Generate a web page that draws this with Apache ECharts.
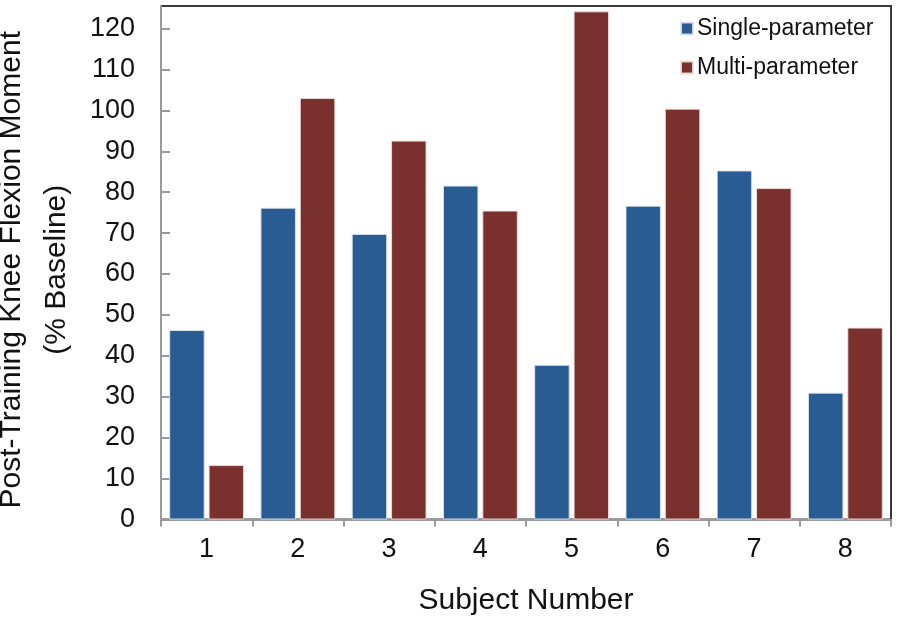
<!DOCTYPE html>
<html>
<head>
<meta charset="utf-8">
<script src="https://cdn.jsdelivr.net/npm/echarts@6/dist/echarts.min.js"></script>
<style>html,body{margin:0;padding:0;background:#fff;}#c{width:898px;height:625px;}</style>
</head>
<body>
<div id="c"></div>
<script>
const categories = ['1', '2', '3', '4', '5', '6', '7', '8'];
const singleParam = [46.3, 76.2, 69.8, 81.6, 37.8, 76.7, 85.3, 31.0];
const multiParam = [13.3, 103.0, 92.6, 75.5, 124.2, 100.4, 81.0, 46.9];
const seriesNames = ['Single-parameter', 'Multi-parameter'];
const xTitle = 'Subject Number';
const yTitle = 'Post-Training Knee Flexion Moment\n(% Baseline)';

const FONT = '"Liberation Sans", Arial, sans-serif';
const chart = echarts.init(document.getElementById('c'), null, {renderer: 'canvas'});
chart.setOption({
  animation: false,
  backgroundColor: '#ffffff',
  textStyle: {fontFamily: FONT},
  grid: {left: 161, right: 7, top: 6, bottom: 105.5, containLabel: false, outerBoundsMode: 'none',
    show: true, borderColor: '#3a3a3a', borderWidth: 2, backgroundColor: 'transparent'},
  legend: {
    orient: 'vertical', left: 680, top: 17, padding: 0, itemWidth: 12, itemHeight: 12, itemGap: 16,
    icon: 'rect',
    textStyle: {fontFamily: FONT, fontSize: 23, color: '#111', padding: [0, 0, 0, -1]},
    data: seriesNames
  },
  xAxis: {
    type: 'category', data: categories,
    axisLine: {lineStyle: {color: '#9a9a9a', width: 2}},
    axisTick: {show: true, inside: false, length: 7, lineStyle: {color: '#9a9a9a', width: 2}},
    axisLabel: {fontSize: 27, color: '#111', margin: 17, fontFamily: FONT},
    name: xTitle, nameLocation: 'middle', nameGap: 66,
    nameTextStyle: {fontSize: 30, color: '#111', fontFamily: FONT}
  },
  yAxis: {
    type: 'value', min: 0, max: 125.5, interval: 10,
    axisLine: {show: true, lineStyle: {color: '#9a9a9a', width: 2}},
    axisTick: {show: true, inside: true, length: 9, lineStyle: {color: '#9a9a9a', width: 2}},
    splitLine: {show: false},
    axisLabel: {fontSize: 27, color: '#111', margin: 26, showMaxLabel: false, fontFamily: FONT,
      formatter: v => (v % 10 === 0 ? String(v) : '')},
    name: yTitle, nameLocation: 'middle', nameRotate: 90, nameGap: 82,
    nameTextStyle: {fontSize: 30, lineHeight: 45, color: '#111', fontFamily: FONT, align: 'center', padding: [0, 14, 0, 0]}
  },
  series: [
    {name: seriesNames[0], type: 'bar', data: singleParam, barCategoryGap: '18%', barGap: '11%',
     itemStyle: {color: '#285c93', borderColor: 'rgba(220,228,238,0.9)', borderWidth: 1}},
    {name: seriesNames[1], type: 'bar', data: multiParam, barCategoryGap: '18%', barGap: '11%',
     itemStyle: {color: '#7a302c', borderColor: 'rgba(238,222,222,0.9)', borderWidth: 1}}
  ]
});
</script>
</body>
</html>
